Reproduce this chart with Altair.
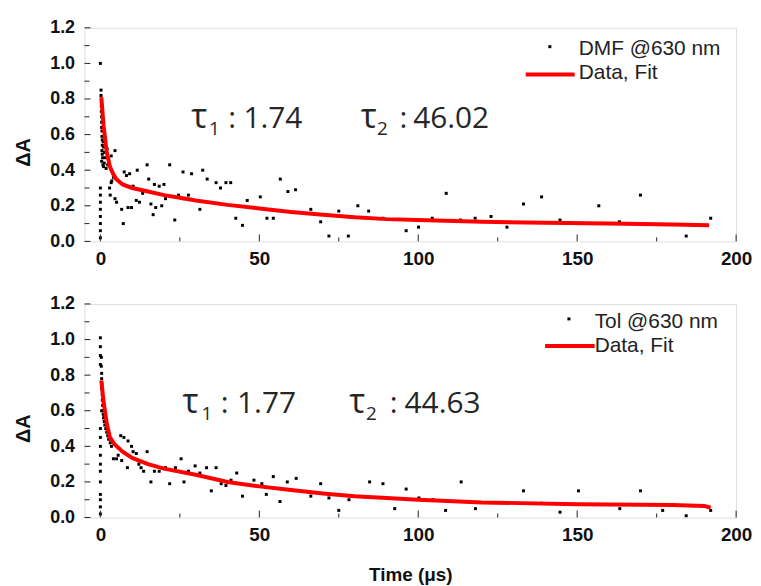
import altair as alt
import pandas as pd

# ---------------- data ----------------
top_t = [0.0,0.0,0.0,0.0,0.0,0.0,0.0,0.0,0.0,0.2,0.2,0.3,0.3,0.3,0.4,0.4,0.4,0.5,0.5,0.6,0.6,0.5,0.6,0.7,0.4,0.8,1.0,1.2,1.5,1.3,1.0,0.9,1.8,2.1,2.3,2.6,3.4,4.6,2.9,3.1,3.6,4.1,4.6,5.1,6.7,7.2,7.5,8.2,8.7,9.2,9.8,10.3,11.3,11.6,12.3,13.3,14.7,15.2,15.9,16.6,17.0,17.4,18.5,19.3,20.0,20.5,21.8,23.4,24.6,26.0,26.2,27.7,28.7,31.3,32.2,33.6,36.4,37.8,39.5,41.0,42.6,44.7,46.2,48.0,50.3,52.4,54.4,56.6,59.0,61.4,66.2,69.3,71.9,75.0,78.0,81.0,84.4,88.9,96.2,100.1,104.4,108.8,113.3,117.9,122.9,127.9,133.1,138.8,144.6,156.8,163.3,169.9,184.3,192.0,3.4]
top_y = [1.0,0.02,0.06,0.10,0.14,0.18,0.22,0.26,0.30,0.85,0.82,0.79,0.76,0.73,0.70,0.67,0.64,0.62,0.59,0.57,0.54,0.51,0.49,0.47,0.45,0.43,0.42,0.44,0.47,0.50,0.53,0.56,0.41,0.52,0.43,0.46,0.48,0.51,0.30,0.26,0.34,0.36,0.24,0.22,0.18,0.10,0.39,0.37,0.19,0.38,0.19,0.31,0.23,0.40,0.22,0.27,0.43,0.35,0.21,0.15,0.32,0.19,0.31,0.20,0.32,0.24,0.43,0.12,0.26,0.39,0.24,0.26,0.38,0.18,0.40,0.35,0.33,0.30,0.33,0.33,0.13,0.09,0.23,0.19,0.25,0.13,0.13,0.35,0.28,0.29,0.18,0.11,0.03,0.17,0.03,0.20,0.17,0.13,0.06,0.08,0.13,0.27,0.12,0.13,0.14,0.08,0.21,0.25,0.12,0.20,0.11,0.26,0.03,0.13,0.33]

bot_t = [0.0,0.0,0.0,0.0,0.0,0.0,0.0,0.0,0.0,0.0,0.0,0.0,0.0,0.0,0.0,0.3,0.3,0.4,0.4,0.5,0.5,0.6,0.6,0.7,0.8,0.4,0.9,1.0,1.2,1.4,1.7,1.3,2.0,2.3,2.6,3.1,2.8,3.5,4.1,5.1,5.6,6.4,6.7,7.4,8.5,8.7,9.8,10.3,11.3,12.1,12.8,13.6,14.7,15.9,17.0,18.5,20.5,21.8,23.6,25.4,26.3,27.7,29.8,31.3,33.4,34.9,36.4,38.0,39.5,41.1,42.9,44.7,48.3,50.8,52.2,54.4,56.5,58.8,61.6,66.2,69.3,71.9,75.0,78.2,84.7,88.9,92.6,96.2,100.2,104.6,108.6,113.5,118.0,133.1,138.8,144.6,150.4,163.4,169.9,176.9,184.3,192.0]
bot_y = [1.01,0.96,0.91,0.86,0.50,0.45,0.40,0.35,0.30,0.26,0.20,0.13,0.10,0.06,0.02,0.90,0.85,0.81,0.78,0.75,0.72,0.69,0.66,0.63,0.60,0.60,0.58,0.56,0.54,0.52,0.50,0.57,0.48,0.46,0.44,0.42,0.47,0.40,0.33,0.33,0.35,0.46,0.32,0.45,0.28,0.43,0.40,0.37,0.36,0.30,0.28,0.26,0.37,0.20,0.26,0.26,0.28,0.19,0.28,0.33,0.20,0.26,0.29,0.25,0.28,0.15,0.28,0.19,0.18,0.21,0.25,0.12,0.21,0.19,0.13,0.23,0.09,0.20,0.22,0.12,0.19,0.11,0.04,0.10,0.20,0.19,0.05,0.16,0.11,0.10,0.04,0.20,0.05,0.15,0.08,0.03,0.15,0.05,0.15,0.04,0.01,0.04]

top_fit_t = [0.3,1,2,3,4,5,7,10,15,20,25,30,40,50,60,70,80,90,100,120,140,160,180,191.5]
top_fit_y = [0.81,0.65,0.50,0.42,0.38,0.35,0.32,0.30,0.28,0.26,0.245,0.23,0.205,0.185,0.165,0.15,0.135,0.125,0.12,0.11,0.105,0.10,0.095,0.09]

bot_fit_t = [0.3,1,2,3,4.5,7,10,15,20,30,40,50,60,70,80,90,100,120,150,180,190,192]
bot_fit_y = [0.77,0.65,0.53,0.45,0.41,0.37,0.335,0.30,0.275,0.24,0.20,0.175,0.155,0.135,0.12,0.11,0.10,0.085,0.075,0.07,0.065,0.055]

top_legend = "DMF @630 nm"
bot_legend = "Tol @630 nm"
fit_legend = "Data, Fit"

# annotation pieces: text, t, y, fontsize
top_ann = [("τ", 28.6, 0.636, 34), ("1", 34.2, 0.600, 19), (":", 40.2, 0.636, 30), ("1.74", 45.0, 0.636, 30),
           ("τ", 81.9, 0.636, 34), ("2", 87.0, 0.600, 19), (":", 94.1, 0.636, 30), ("46.02", 98.4, 0.636, 30)]
bot_ann = [("τ", 25.8, 0.585, 34), ("1", 31.8, 0.547, 19), (":", 37.9, 0.585, 30), ("1.77", 43.0, 0.585, 30),
           ("τ", 78.3, 0.585, 34), ("2", 83.6, 0.547, 19), (":", 91.0, 0.585, 30), ("44.63", 95.7, 0.585, 30)]

x_major = [0, 50, 100, 150, 200]
x_minor = [25, 75, 125, 175]
y_major = [0.0, 0.2, 0.4, 0.6, 0.8, 1.0, 1.2]
y_minor = [0.1, 0.3, 0.5, 0.7, 0.9, 1.1]

W, H = 656, 215
FONT = "Liberation Sans"


def panel(pts_t, pts_y, fit_t, fit_y, ann, leg_label, leg, show_title):
    xs = alt.Scale(domain=[-5, 200], nice=False, zero=False)
    ys = alt.Scale(domain=[0, 1.2], nice=False, zero=False)
    xaxis = alt.Axis(values=x_major, labelFontSize=19, labelFont=FONT, labelFontWeight="bold",
                     labelColor="#111", ticks=False, domain=False, grid=False, labelPadding=8,
                     labelFlush=False,
                     title="Time (μs)" if show_title else None,
                     titleFont=FONT, titleFontSize=19, titleFontWeight="bold", titleColor="#111",
                     titleY=63, titleBaseline="alphabetic")
    yaxis = alt.Axis(values=y_major, format=".1f", labelFontSize=18, labelFont=FONT,
                     labelFontWeight="bold", labelColor="#111", ticks=False, domain=False,
                     grid=False, labelPadding=10, labelFlush=False,
                     title="ΔA", titleFont=FONT, titleFontSize=20,
                     titleFontWeight="bold", titleColor="#111", titleX=-61, titleY=125,
                     titleAngle=270, titleBaseline="middle", titleAlign="center")
    X = alt.X("t:Q", scale=xs, axis=xaxis)
    Y = alt.Y("y:Q", scale=ys, axis=yaxis)

    pts = pd.DataFrame({"t": pts_t, "y": pts_y})
    fit = pd.DataFrame({"t": fit_t, "y": fit_y})
    ann_df = pd.DataFrame(ann, columns=["label", "t", "y", "fs"])

    scatter = alt.Chart(pts).mark_square(size=9, color="black", opacity=1).encode(x=X, y=Y)
    line = alt.Chart(fit).mark_line(color="#ff0000", strokeWidth=4).encode(x=X, y=Y)
    texts = alt.Chart(ann_df).mark_text(align="left", baseline="alphabetic", font="Open Sans",
                                        color="#262626").encode(
        x=X, y=Y, text="label:N", size=alt.Size("fs:Q", scale=None, legend=None))

    # legend
    lp_t, lp_y, lt_t, lt_y, lr_t1, lr_t2, lr_y, lf_y = leg
    leg_pt = alt.Chart(pd.DataFrame({"t": [lp_t], "y": [lp_y]})).mark_square(
        size=9, color="black", opacity=1).encode(x=X, y=Y)
    leg_txt = alt.Chart(pd.DataFrame({"t": [lt_t, lt_t], "y": [lt_y, lf_y],
                                      "label": [leg_label, fit_legend]})).mark_text(
        align="left", baseline="alphabetic", font=FONT, fontSize=21, color="#222").encode(
        x=X, y=Y, text="label:N")
    leg_rule = alt.Chart(pd.DataFrame({"t": [lr_t1], "t2": [lr_t2], "y": [lr_y]})).mark_rule(
        color="#ff0000", strokeWidth=4).encode(x=X, x2="t2:Q", y=Y)

    # inward ticks
    xt_major = alt.Chart(pd.DataFrame({"t": x_major})).mark_rule(color="#222", strokeWidth=1).encode(
        x=X, y=alt.value(H), y2=alt.value(H - 7))
    xt_minor = alt.Chart(pd.DataFrame({"t": x_minor})).mark_rule(color="#222", strokeWidth=1).encode(
        x=X, y=alt.value(H), y2=alt.value(H - 4))
    yt_major = alt.Chart(pd.DataFrame({"y": y_major})).mark_rule(color="#222", strokeWidth=1).encode(
        y=Y, x=alt.value(0), x2=alt.value(6))
    yt_minor = alt.Chart(pd.DataFrame({"y": y_minor})).mark_rule(color="#222", strokeWidth=1).encode(
        y=Y, x=alt.value(0), x2=alt.value(5))

    return alt.layer(scatter, line, texts, leg_pt, leg_txt, leg_rule,
                     xt_major, xt_minor, yt_major, yt_minor).properties(width=W, height=H)


top = panel(top_t, top_y, top_fit_t, top_fit_y, top_ann, top_legend,
            (141.4, 1.094, 150.5, 1.049, 133.8, 149.2, 0.938, 0.91), False)
bot = panel(bot_t, bot_y, bot_fit_t, bot_fit_y, bot_ann, bot_legend,
            (147.4, 1.116, 155.5, 1.065, 139.9, 155.5, 0.964, 0.931), True)

chart = alt.vconcat(top, bot, spacing=63, bounds="flush").properties(
    padding={"left": 5, "top": 8, "right": 0, "bottom": 0}
).configure_view(stroke="#222", strokeWidth=1.2).configure(background="white")

chart.save("out.html", embed_options={"renderer": "svg", "actions": False})
